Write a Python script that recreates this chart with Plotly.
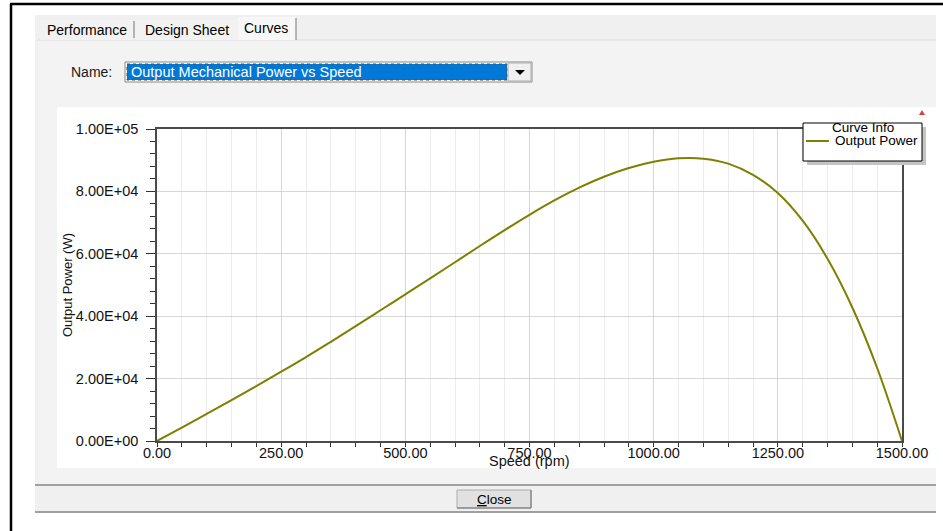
import plotly.graph_objects as go

# ---------------- data ----------------
speed_rpm = [0, 50, 100, 150, 200, 250, 300, 350, 400, 450, 500, 550, 600, 650,
             700, 750, 800, 850, 900, 950, 1000, 1050, 1100, 1150, 1200, 1250,
             1300, 1350, 1400, 1450, 1500]
output_power_w = [0, 4300, 8700, 13100, 17600, 22200, 26900, 31800, 36800, 41900,
                  47000, 52100, 57300, 62500, 67600, 72500, 77100, 81200, 84700,
                  87500, 89500, 90600, 90500, 88900, 85300, 79500, 70600, 58400,
                  42800, 23400, 0]

x_tick_vals = [0, 250, 500, 750, 1000, 1250, 1500]
x_tick_text = ["0.00", "250.00", "500.00", "750.00", "1000.00", "1250.00", "1500.00"]
y_tick_vals = [0, 20000, 40000, 60000, 80000, 100000]
y_tick_text = ["0.00E+00", "2.00E+04", "4.00E+04", "6.00E+04", "8.00E+04", "1.00E+05"]

series_name = "Output Power"
legend_title = "Curve Info"
x_title = "Speed (rpm)"
y_title = "Output Power (W)"
curve_name = "Output Mechanical Power vs Speed"
tab_names = ["Performance", "Design Sheet", "Curves"]

# ---------------- geometry helpers ----------------
W, H = 943, 531
L, R, T, B = 157, 902, 129, 441


def px(x):
    return (x - L) / (R - L)


def py(y):
    return (B - y) / (B - T)


CURVE_COLOR = "#7f7f00"
FONT = "Liberation Sans, Arial, sans-serif"

fig = go.Figure()
fig.add_trace(go.Scatter(x=speed_rpm, y=output_power_w, mode="lines",
                         name=series_name, showlegend=False,
                         line=dict(color=CURVE_COLOR, width=2, shape="spline", smoothing=1.0),
                         hoverinfo="x+y"))

shapes = []


def rect(x0, y0, x1, y1, fill, line_color=None, lw=0, layer="below", dash=None):
    ln = dict(width=lw)
    if line_color:
        ln["color"] = line_color
    if dash:
        ln["dash"] = dash
    shapes.append(dict(type="rect", xref="paper", yref="paper",
                       x0=px(x0), x1=px(x1), y0=py(y0), y1=py(y1),
                       fillcolor=fill, line=ln, layer=layer))


def line(x0, y0, x1, y1, color, lw=1, layer="below"):
    shapes.append(dict(type="line", xref="paper", yref="paper",
                       x0=px(x0), x1=px(x1), y0=py(y0), y1=py(y1),
                       line=dict(color=color, width=lw), layer=layer))


def path(points, fill, layer="below"):
    d = "M " + " L ".join(f"{px(a)},{py(b)}" for a, b in points) + " Z"
    shapes.append(dict(type="path", xref="paper", yref="paper", path=d,
                       fillcolor=fill, line=dict(width=0), layer=layer))


# dialog panel
rect(35, 15, 936, 512, "#f0f0f0")
rect(38, 40, 936, 484, "#f3f3f3")
line(38, 40, 936, 40, "#dcdcdc", 1)
# tabs
rect(40, 20, 134, 40, "#f2f2f2")
rect(135, 20, 238, 40, "#f2f2f2")
rect(238, 17, 296, 40, "#f7f7f7")
line(134, 21, 134, 38, "#8a8a8a", 1.2)
line(296, 18, 296, 40, "#8a8a8a", 1.2)
# outer black frame
line(10, 4, 943, 4, "#000000", 2.5)
line(11, 4, 11, 531, "#000000", 2.5)
# name combobox
rect(125, 62, 532, 82, "#ffffff", "#8a8a8a", 1)
rect(127, 64, 507, 80, "#0078d7", "#6b4a2a", 1, dash="dot")
rect(508, 63, 531, 81, "#f0f0f0", "#adadad", 1)
path([(515, 70), (525, 70), (520, 75)], "#000000")
# plot white area
rect(57, 107, 936, 468, "#ffffff")
# bottom button band
line(35, 485, 936, 485, "#a0a0a0", 2)
line(35, 512, 936, 512, "#a0a0a0", 2)
rect(457, 490, 531, 508, "#e1e1e1", "#adadad", 1)
line(457, 508, 531, 508, "#8c8c8c", 1.5)
line(531, 490, 531, 508, "#8c8c8c", 1.5)
# small red marker
path([(919, 115), (925, 115), (922, 110)], "#e03c3c", layer="above")
# legend box with shadow
rect(807, 127, 926, 165, "#c4c4c4", layer="above")
rect(803, 123, 922, 161, "#ffffff", "#000000", 1, layer="above")
line(806, 141, 829, 141, CURVE_COLOR, 2, layer="above")

annotations = []


def text(x, y, s, size=14, color="#000000", xanchor="center", yanchor="middle",
         angle=0, family=FONT):
    annotations.append(dict(xref="paper", yref="paper", x=px(x), y=py(y), text=s,
                            showarrow=False, xanchor=xanchor, yanchor=yanchor,
                            textangle=angle, font=dict(family=family, size=size, color=color)))


text(87, 30, tab_names[0], 14)
text(186.5, 30, tab_names[1], 14)
text(266, 28, tab_names[2], 14)
text(91, 72, "Name:", 14, "#1a1a1a")
text(129, 72, curve_name, 14.5, "#ffffff", xanchor="left")
text(494, 499, "<u>C</u>lose", 13.5)
text(863, 127, legend_title, 13.5)
text(833, 140, series_name, 13.5, xanchor="left")
text(529, 461, x_title, 14.5, "#111111")
text(67, 285, y_title, 13, "#111111", angle=-90)

fig.update_layout(
    width=W, height=H, autosize=False,
    margin=dict(l=L, r=W - R, t=T, b=H - B, pad=0),
    paper_bgcolor="#ffffff", plot_bgcolor="rgba(0,0,0,0)",
    shapes=shapes, annotations=annotations, showlegend=False,
    font=dict(family=FONT, size=14, color="#111111"),
    xaxis=dict(range=[0, 1500], tickvals=x_tick_vals, ticktext=x_tick_text,
               ticks="outside", ticklen=4, tickcolor="#333333", ticklabelstandoff=-6,
               showgrid=True, gridcolor="#d6d6d6", gridwidth=1,
               minor=dict(dtick=50, tick0=0, ticks="outside", ticklen=4,
                          tickcolor="#333333", showgrid=True, gridcolor="#ececec"),
               showline=True, linecolor="#4a4a4a", linewidth=1.5, mirror=True,
               zeroline=False, tickfont=dict(family=FONT, size=14.5, color="#111111")),
    yaxis=dict(range=[0, 100000], tickvals=y_tick_vals, ticktext=y_tick_text,
               ticks="outside", ticklen=9, tickcolor="#333333", ticklabelstandoff=5,
               showgrid=True, gridcolor="#d6d6d6", gridwidth=1,
               minor=dict(dtick=4000, tick0=0, ticks="outside", ticklen=5,
                          tickcolor="#333333", showgrid=False),
               showline=True, linecolor="#4a4a4a", linewidth=1.5, mirror=True,
               zeroline=False, tickfont=dict(family=FONT, size=14.5, color="#111111")),
    yaxis2=dict(range=[0, 100000], overlaying="y", side="left", dtick=8000, tick0=0,
                showgrid=True, gridcolor="#ececec", showticklabels=False, ticks="",
                showline=False, zeroline=False),
)

fig.write_html("out.html", config={"displayModeBar": False},
               post_script="document.body.style.margin='0';document.body.style.overflow='hidden';")
